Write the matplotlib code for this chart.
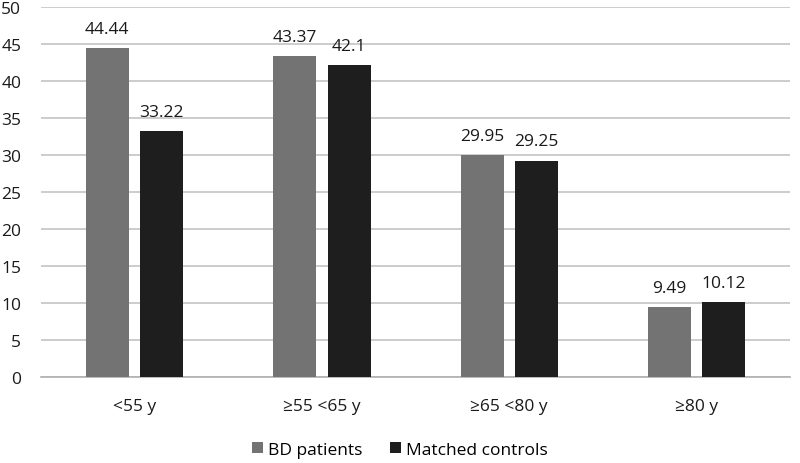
import numpy as np
import matplotlib.pyplot as plt

plt.rcParams['font.family'] = ['Open Sans', 'DejaVu Sans']

categories = ['<55 y', '\u226555 <65 y', '\u226565 <80 y', '\u226580 y']
bd_patients = [44.44, 43.37, 29.95, 9.49]
matched_controls = [33.22, 42.1, 29.25, 10.12]
bd_labels = ['44.44', '43.37', '29.95', '9.49']
ctrl_labels = ['33.22', '42.1', '29.25', '10.12']

fs = 12.5
fig = plt.figure(figsize=(8, 4.64), dpi=100)
ax = fig.add_axes([0.051, 0.185, 0.937, 0.798])

x = np.arange(len(categories))
w = 0.23
gap = 0.06
b1 = ax.bar(x - (w + gap) / 2, bd_patients, w, color='#737373', label='BD patients', zorder=3)
b2 = ax.bar(x + (w + gap) / 2, matched_controls, w, color='#1e1e1e', label='Matched controls', zorder=3)
ax.bar_label(b1, labels=bd_labels, padding=8, fontsize=fs, color='#1a1a1a')
ax.bar_label(b2, labels=ctrl_labels, padding=8, fontsize=fs, color='#1a1a1a')

ax.set_xlim(-0.5, len(categories) - 0.5)
ax.set_ylim(0, 50)
ax.set_yticks(range(0, 51, 5))
ax.set_xticks(x)
ax.set_xticklabels(categories)
ax.tick_params(axis='both', length=0, labelsize=fs, colors='#1a1a1a')
ax.tick_params(axis='x', pad=15)
ax.tick_params(axis='y', pad=14)
ax.grid(axis='y', color='#c4c4c4', linewidth=1.2, zorder=0)
for s in ['top', 'right', 'left']:
    ax.spines[s].set_visible(False)
ax.spines['bottom'].set_color('#b0b0b0')
ax.spines['bottom'].set_linewidth(1.2)

fig.legend(loc='lower center', bbox_to_anchor=(0.5, -0.022), ncol=2, frameon=False,
           fontsize=fs, handlelength=0.6, handleheight=0.6, columnspacing=1.6,
           handletextpad=0.3)

fig.savefig('out.png', dpi=100)
